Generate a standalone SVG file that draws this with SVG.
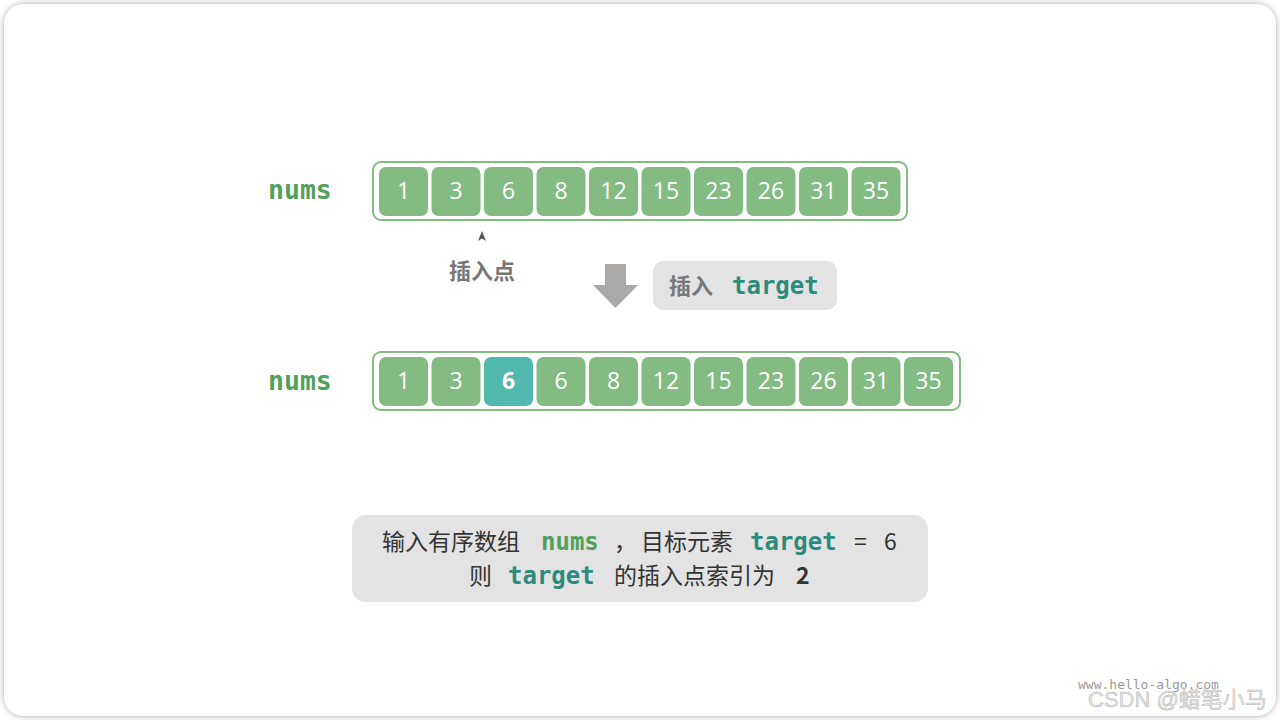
<svg xmlns="http://www.w3.org/2000/svg" width="1280" height="720" viewBox="0 0 1280 720">
<defs>
<filter id="sh" x="-5%" y="-5%" width="110%" height="110%">
<feGaussianBlur in="SourceAlpha" stdDeviation="3"/>
<feComponentTransfer><feFuncA type="linear" slope="0.35"/></feComponentTransfer>
<feMerge><feMergeNode/><feMergeNode in="SourceGraphic"/></feMerge>
</filter>
</defs>
<style>
.cell{fill:#83bb83;}
.hl{fill:#52b8ad;}
.box{fill:#fff;stroke:#83bb83;stroke-width:2;}
.num{font-family:"Open Sans","Noto Sans",sans-serif;font-size:23px;fill:#fff;text-anchor:middle;}
.lbl{font-family:"DejaVu Sans Mono","Liberation Mono",monospace;font-weight:bold;font-size:26.5px;fill:#52a05a;}
.cn{font-family:"Noto Sans CJK SC","Noto Sans",sans-serif;}
.mono{font-family:"DejaVu Sans Mono","Liberation Mono",monospace;font-weight:bold;font-size:24px;}
.cap{font-size:23px;fill:#333;}
</style>
<rect x="4" y="4" width="1272" height="712" rx="20" fill="#fff" filter="url(#sh)"/>

<g id="label-top"><text class="lbl" x="268" y="199">nums</text></g>
<g id="array-top">
<rect class="box" x="373" y="162" width="534" height="58" rx="8"/>
<rect class="cell" x="379" y="167" width="49" height="49" rx="7"/><text class="num" x="403.5" y="199">1</text>
<rect class="cell" x="431.5" y="167" width="49" height="49" rx="7"/><text class="num" x="456" y="199">3</text>
<rect class="cell" x="484" y="167" width="49" height="49" rx="7"/><text class="num" x="508.5" y="199">6</text>
<rect class="cell" x="536.5" y="167" width="49" height="49" rx="7"/><text class="num" x="561" y="199">8</text>
<rect class="cell" x="589" y="167" width="49" height="49" rx="7"/><text class="num" x="613.5" y="199">12</text>
<rect class="cell" x="641.5" y="167" width="49" height="49" rx="7"/><text class="num" x="666" y="199">15</text>
<rect class="cell" x="694" y="167" width="49" height="49" rx="7"/><text class="num" x="718.5" y="199">23</text>
<rect class="cell" x="746.5" y="167" width="49" height="49" rx="7"/><text class="num" x="771" y="199">26</text>
<rect class="cell" x="799" y="167" width="49" height="49" rx="7"/><text class="num" x="823.5" y="199">31</text>
<rect class="cell" x="851.5" y="167" width="49" height="49" rx="7"/><text class="num" x="876" y="199">35</text>
</g>

<g id="insert-point">
<path d="M478 241 L482 231 L486 241 L482 238.5 Z" fill="#555"/>
<text class="cn" x="482" y="279" font-size="22" font-weight="bold" fill="#777" text-anchor="middle">插入点</text>
</g>

<g id="connectors">
<path d="M605 264 H626 V285 H638 L615.5 308 L593 285 H605 Z" fill="#aba8a8"/>
</g>

<g id="insert-label">
<rect x="653" y="261" width="184" height="49" rx="10" fill="#e3e3e3"/>
<text class="cn" x="669" y="294" font-size="22" font-weight="bold" fill="#777">插入</text>
<text class="mono" x="732" y="294" fill="#2e8b7b">target</text>
</g>

<g id="label-bottom"><text class="lbl" x="268" y="390">nums</text></g>
<g id="array-bottom">
<rect class="box" x="373" y="352" width="587" height="58" rx="8"/>
<rect class="cell" x="379" y="357" width="49" height="49" rx="7"/><text class="num" x="403.5" y="389">1</text>
<rect class="cell" x="431.5" y="357" width="49" height="49" rx="7"/><text class="num" x="456" y="389">3</text>
<rect class="hl" x="484" y="357" width="49" height="49" rx="7"/><text class="num" x="508.5" y="389" font-weight="bold">6</text>
<rect class="cell" x="536.5" y="357" width="49" height="49" rx="7"/><text class="num" x="561" y="389">6</text>
<rect class="cell" x="589" y="357" width="49" height="49" rx="7"/><text class="num" x="613.5" y="389">8</text>
<rect class="cell" x="641.5" y="357" width="49" height="49" rx="7"/><text class="num" x="666" y="389">12</text>
<rect class="cell" x="694" y="357" width="49" height="49" rx="7"/><text class="num" x="718.5" y="389">15</text>
<rect class="cell" x="746.5" y="357" width="49" height="49" rx="7"/><text class="num" x="771" y="389">23</text>
<rect class="cell" x="799" y="357" width="49" height="49" rx="7"/><text class="num" x="823.5" y="389">26</text>
<rect class="cell" x="851.5" y="357" width="49" height="49" rx="7"/><text class="num" x="876" y="389">31</text>
<rect class="cell" x="904" y="357" width="49" height="49" rx="7"/><text class="num" x="928.5" y="389">35</text>
</g>

<g id="caption">
<rect x="352" y="515" width="576" height="87" rx="14" fill="#e3e3e3"/>
<text class="cn cap" x="382" y="550">输入有序数组</text>
<text class="mono" x="541" y="550" fill="#52a05a">nums</text>
<text class="cn cap" x="614" y="550">，</text>
<text class="cn cap" x="641" y="550">目标元素</text>
<text class="mono" x="750" y="550" fill="#2e8b7b">target</text>
<text class="cn cap" x="854" y="550">=</text>
<text class="cn cap" x="884" y="550">6</text>
<text class="cn cap" x="469" y="584">则</text>
<text class="mono" x="508" y="584" fill="#2e8b7b">target</text>
<text class="cn cap" x="614" y="584">的插入点索引为</text>
<text class="cn cap" x="796" y="584" font-weight="bold">2</text>
</g>

<g id="watermark">
<text x="1078" y="689" font-family="DejaVu Sans Mono,monospace" font-size="13" fill="#999">www.hello-algo.com</text>
<text x="1088" y="707" font-family="Liberation Sans,Noto Sans CJK SC,sans-serif" font-size="22" fill="#e4e4e4" stroke="#b8b8b8" stroke-width="0.5">CSDN @蜡笔小马</text>
</g>
</svg>
